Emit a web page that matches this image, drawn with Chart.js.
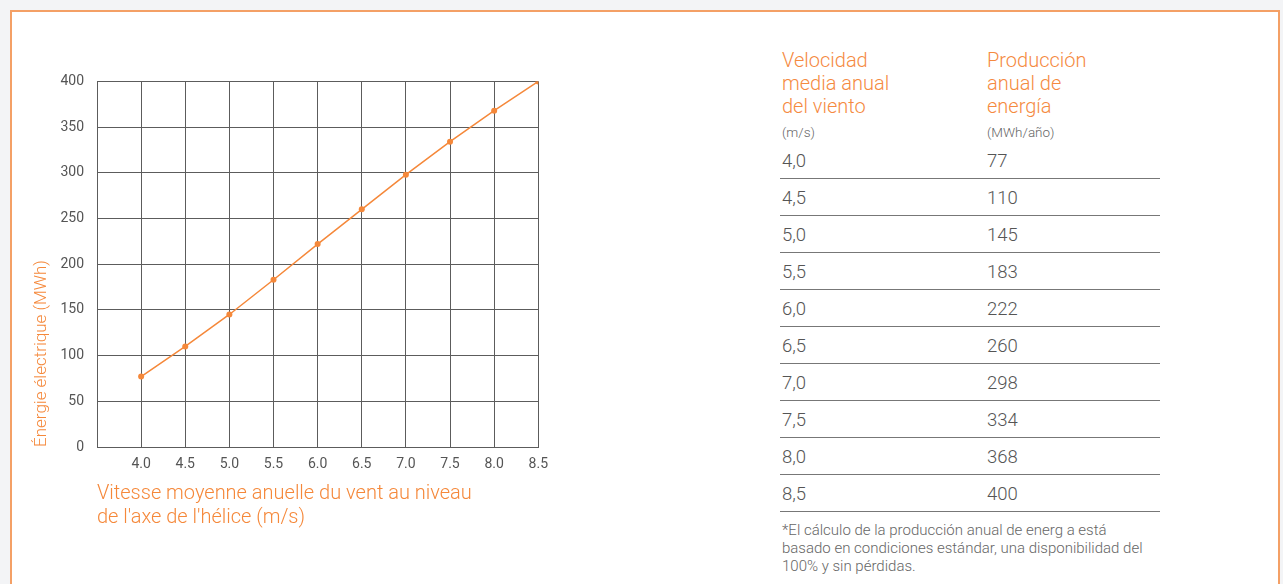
<!DOCTYPE html>
<html>
<head>
<meta charset="utf-8">
<script src="https://cdn.jsdelivr.net/npm/chart.js@4.4.0/dist/chart.umd.min.js"></script>
<style>
  html, body { margin:0; padding:0; }
  body { width:1283px; height:584px; background:#f3f4f6; position:relative; overflow:hidden; font-family: Roboto, "Noto Sans", sans-serif; }
  #card { position:absolute; left:10px; top:10px; width:1270px; height:600px; background:#fff; border:2px solid #f4a066; box-sizing:border-box; }
  #chartBox { position:absolute; left:20px; top:60px; width:537px; height:475px; }
  .hdr { position:absolute; top:49px; font-size:20px; line-height:23px; color:#f58a3f; font-weight:300; }
  .unit { position:absolute; top:123px; font-size:13.5px; line-height:18px; color:#666; font-weight:300; }
  #rows { position:absolute; left:780px; top:142px; width:380px; }
  .row { position:relative; height:36px; border-bottom:1px solid #777; font-size:18.5px; color:#555; font-weight:300; }
  .row span { position:absolute; top:8px; line-height:22px; }
  .row .c1 { left:2px; }
  .row .c2 { left:207px; }
  #note { position:absolute; left:782px; top:521px; font-size:15px; line-height:18px; color:#666; font-weight:300; width:420px; }
</style>
</head>
<body>
<div id="card"></div>
<div id="chartBox"><canvas id="c"></canvas></div>
<div class="hdr" style="left:782px">Velocidad<br>media anual<br>del viento</div>
<div class="hdr" style="left:987px">Producción<br>anual de<br>energía</div>
<div class="unit" style="left:782px">(m/s)</div>
<div class="unit" style="left:987px">(MWh/año)</div>
<div id="rows"></div>
<div id="note">*El cálculo de la producción anual de energ a está<br>basado en condiciones estándar, una disponibilidad del<br>100% y sin pérdidas.</div>
<script>
const windSpeeds = [4.0, 4.5, 5.0, 5.5, 6.0, 6.5, 7.0, 7.5, 8.0, 8.5];
const energyMWh = [77, 110, 145, 183, 222, 260, 298, 334, 368, 400];
const tableSpeedLabels = ["4,0","4,5","5,0","5,5","6,0","6,5","7,0","7,5","8,0","8,5"];
const yTitle = "Énergie électrique (MWh)";
const xTitle = ["Vitesse moyenne anuelle du vent au niveau", "de l'axe de l'hélice (m/s)"];

const rows = document.getElementById('rows');
tableSpeedLabels.forEach((s, i) => {
  const r = document.createElement('div');
  r.className = 'row';
  r.innerHTML = '<span class="c1">' + s + '</span><span class="c2">' + energyMWh[i] + '</span>';
  rows.appendChild(r);
});

const orange = '#f5883a';
const gridCol = '#5c5c5c';
new Chart(document.getElementById('c'), {
  type: 'line',
  data: {
    datasets: [{
      data: windSpeeds.map((x, i) => ({ x: x, y: energyMWh[i] })),
      borderColor: orange,
      backgroundColor: orange,
      borderWidth: 1.5,
      pointRadius: 3,
      pointHoverRadius: 3,
      pointBorderWidth: 0,
      tension: 0
    }]
  },
  options: {
    responsive: true,
    maintainAspectRatio: false,
    animation: false,
    layout: { padding: { top: 20, right: 0, bottom: 0, left: 0 } },
    plugins: { legend: { display: false }, tooltip: { enabled: false } },
    scales: {
      x: {
        type: 'linear',
        min: 3.5, max: 8.5,
        afterFit: s => { s.height = 88; },
        ticks: {
          stepSize: 0.5,
          color: '#555',
          font: { family: 'Roboto', size: 14 },
          padding: 9,
          maxRotation: 0,
          callback: v => (Math.abs(v - 3.5) < 1e-6 ? '' : Number(v).toFixed(1))
        },
        grid: { color: gridCol, lineWidth: 1, drawTicks: false },
        border: { color: gridCol, width: 1 },
        title: {
          display: true,
          text: xTitle,
          align: 'start',
          color: orange,
          font: { family: 'Roboto', size: 20, weight: 300, lineHeight: 1.2 },
          padding: { top: 8, bottom: 5 }
        }
      },
      y: {
        min: 0, max: 400,
        afterFit: s => { s.width = 77; },
        ticks: {
          stepSize: 50,
          color: '#555',
          font: { family: 'Roboto', size: 14 },
          padding: 13
        },
        grid: { color: gridCol, lineWidth: 1, drawTicks: false },
        border: { color: gridCol, width: 1 },
        title: {
          display: true,
          text: yTitle,
          align: 'start',
          color: orange,
          font: { family: 'Roboto', size: 17, weight: 300, lineHeight: 1.2 },
          padding: { top: 12, bottom: 4 }
        }
      }
    }
  }
});
</script>
</body>
</html>
